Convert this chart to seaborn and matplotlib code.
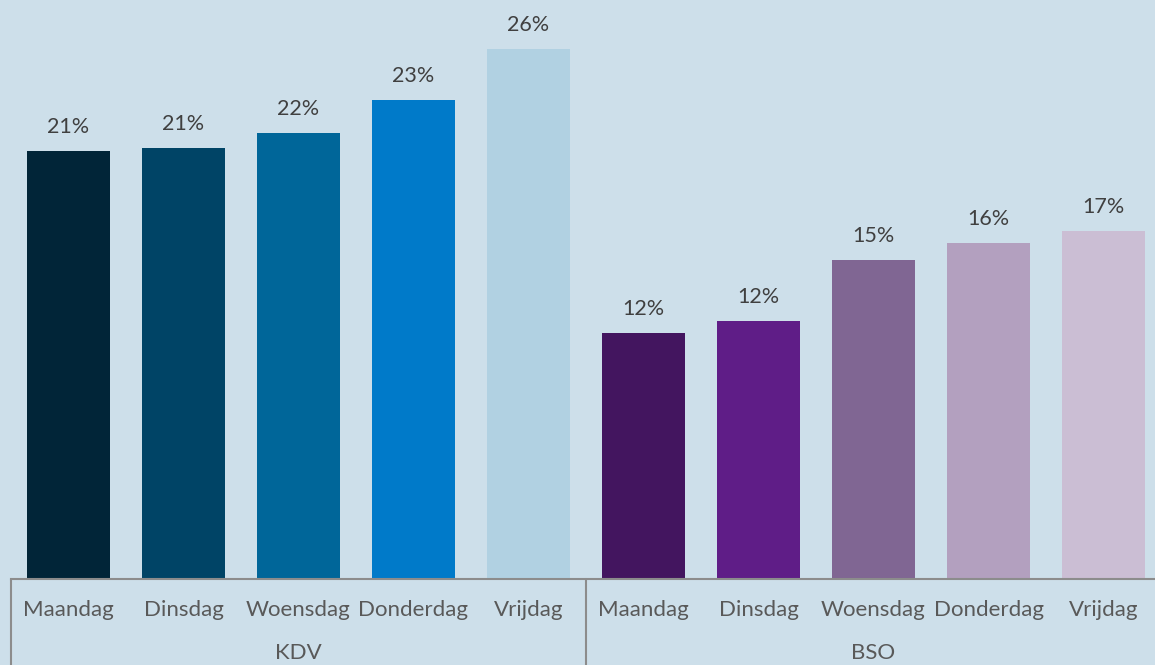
import pandas as pd
import matplotlib.pyplot as plt
import matplotlib.transforms as mtransforms
import seaborn as sns

# Data
groups = ["KDV"] * 5 + ["BSO"] * 5
days = ["Maandag", "Dinsdag", "Woensdag", "Donderdag", "Vrijdag"] * 2
values = [20.68, 20.82, 21.55, 23.14, 25.60, 11.88, 12.46, 15.41, 16.23, 16.81]
value_labels = ["21%", "21%", "22%", "23%", "26%", "12%", "12%", "15%", "16%", "17%"]
group_names = ["KDV", "BSO"]
bar_colors = ["#012538", "#004466", "#006699", "#007ac9", "#b1d1e2",
              "#43155f", "#5f1d87", "#806693", "#b3a0bf", "#cbbed4"]

bg = "#cddfea"
df = pd.DataFrame({"key": [g + " " + d for g, d in zip(groups, days)],
                   "day": days, "group": groups, "value": values})

sns.set_style("white")
plt.rcParams["font.family"] = ["Lato", "DejaVu Sans"]

fig = plt.figure(figsize=(11.55, 6.65), dpi=100, facecolor=bg)
ax = fig.add_axes([11 / 1155, 86 / 665, 1150 / 1155, 579 / 665])
ax.set_facecolor(bg)

sns.barplot(data=df, x="key", y="value", hue="key", palette=bar_colors,
            width=0.72, legend=False, ax=ax, saturation=1,
            edgecolor="none", linewidth=0)

ax.set_xlim(-0.5, 9.5)
ax.set_ylim(0, 27.97)
ax.set_yticks([])
ax.set_ylabel("")
ax.set_xlabel("")
ax.set_xticks(range(len(days)))
ax.set_xticklabels(days, fontsize=16, color="#595959")
ax.tick_params(axis="x", length=0, pad=15)

for s in ["top", "right", "left"]:
    ax.spines[s].set_visible(False)
ax.spines["bottom"].set_color("#8c8c8c")
ax.spines["bottom"].set_linewidth(1.5)

# value labels
for i, (v, lab) in enumerate(zip(values, value_labels)):
    ax.annotate(lab, (i, v), xytext=(0, 13), textcoords="offset points",
                ha="center", va="baseline", fontsize=15.5, color="#404040")

# group separators and group names
trans = mtransforms.blended_transform_factory(ax.transData, ax.transAxes)
for xsep in [-0.5, 4.5, 9.5]:
    ax.plot([xsep, xsep], [0, -0.2], color="#8c8c8c", lw=1.5,
            transform=trans, clip_on=False)
for j, name in enumerate(group_names):
    ax.text(2 + 5 * j, -0.128, name, transform=trans, ha="center",
            va="center", fontsize=16, color="#595959")

plt.savefig("out.png", dpi=100, facecolor=bg)
